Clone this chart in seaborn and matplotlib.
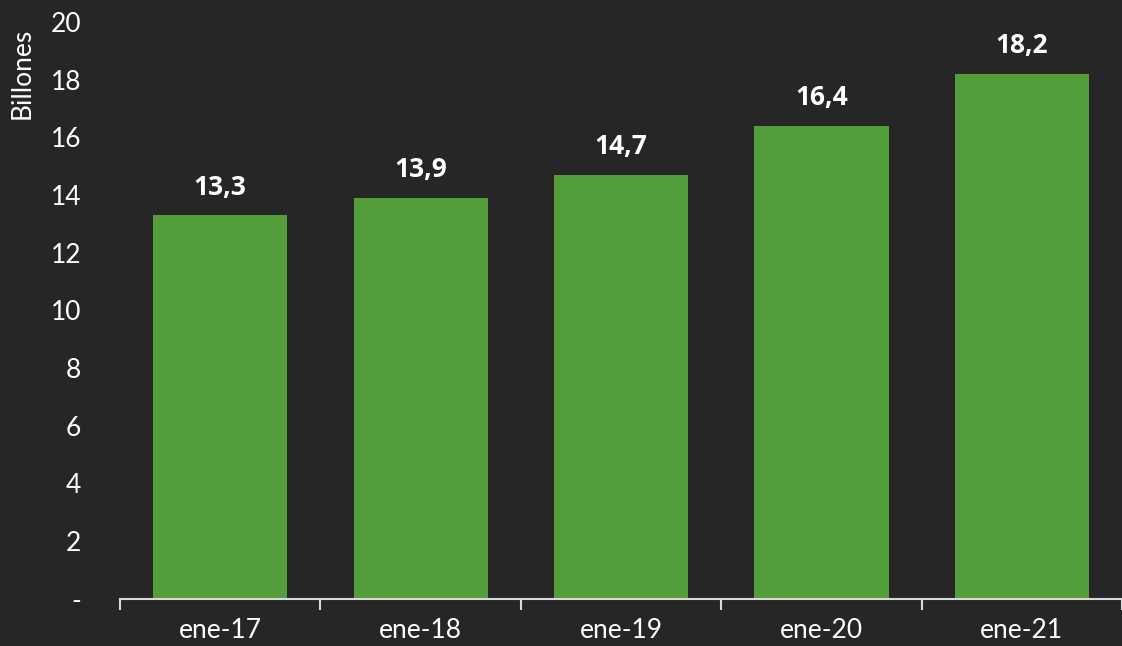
import matplotlib
matplotlib.use("Agg")
import matplotlib.pyplot as plt
import seaborn as sns
import pandas as pd
import numpy as np

# data
fechas = ["ene-17", "ene-18", "ene-19", "ene-20", "ene-21"]
billones = [13.3, 13.9, 14.7, 16.4, 18.2]
etiquetas = ["13,3", "13,9", "14,7", "16,4", "18,2"]
y_ticks = [0, 2, 4, 6, 8, 10, 12, 14, 16, 18, 20]
y_tick_labels = ["-", "2", "4", "6", "8", "10", "12", "14", "16", "18", "20"]

BG = "#262626"
GREEN = "#539E3A"
FG = "#FFFFFF"

sns.set_style("dark")
plt.rcParams["font.family"] = ["Lato", "DejaVu Sans"]

df = pd.DataFrame({"fecha": fechas, "valor": billones})

fig = plt.figure(figsize=(11.22, 6.46), dpi=100, facecolor=BG)
ax = fig.add_axes([0.107, 0.073, 0.893, 0.893])
ax.set_facecolor(BG)

sns.barplot(data=df, x="fecha", y="valor", color=GREEN, saturation=1,
            width=0.67, linewidth=0, ax=ax)

# value labels
for i, (v, lab) in enumerate(zip(billones, etiquetas)):
    ax.text(i, v + 0.5, lab, ha="center", va="bottom", color=FG,
            fontsize=19, fontweight="bold", family=["Open Sans", "DejaVu Sans"])

ax.set_xlim(-0.5, 4.5)
ax.set_ylim(0, 20)
ax.set_yticks(y_ticks)
ax.set_yticklabels(y_tick_labels)
ax.tick_params(axis="y", length=0, pad=28, labelcolor=FG, labelsize=19)

# ticks on category boundaries, labels in the middle
ax.set_xticks(range(len(fechas)))
ax.set_xticks(np.arange(-0.5, len(fechas), 1.0), minor=True)
ax.tick_params(axis="x", which="major", bottom=True, length=0, pad=14,
               labelcolor=FG, labelsize=19)
ax.tick_params(axis="x", which="minor", bottom=True, length=8, width=1.5,
               color="#D9D9D9", direction="out")

for s in ["top", "right", "left"]:
    ax.spines[s].set_visible(False)
ax.spines["bottom"].set_color("#D9D9D9")
ax.spines["bottom"].set_linewidth(1.5)
ax.grid(False)

ax.set_xlabel("")
ax.set_ylabel("Billones", color=FG, fontsize=19, loc="top")
ax.yaxis.set_label_coords(-0.085, 0.99)

fig.savefig("out.png", dpi=100, facecolor=BG)
